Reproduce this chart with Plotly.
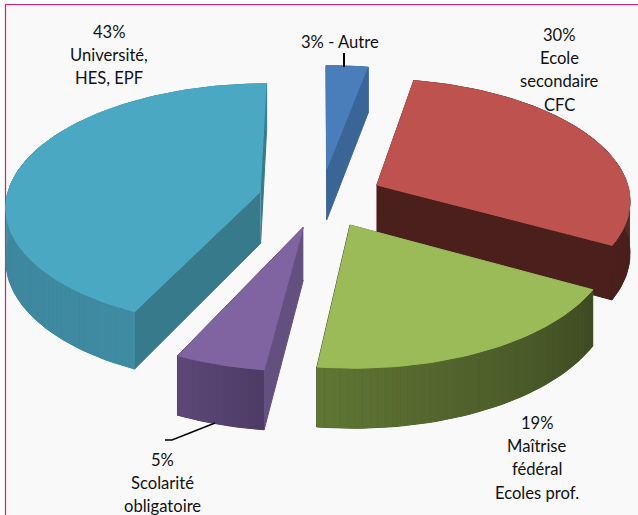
import numpy as np
import plotly.graph_objects as go

# --- data ---
categories = ["Autre", "Ecole secondaire CFC", "Maîtrise fédéral Ecoles prof.",
              "Scolarité obligatoire", "Université, HES, EPF"]
shares = [3, 30, 19, 5, 43]
label_lines = [["3% - Autre"],
               ["30%", "Ecole", "secondaire", "CFC"],
               ["19%", "Maîtrise", "fédéral", "Ecoles prof."],
               ["5%", "Scolarité", "obligatoire"],
               ["43%", "Université,", "HES, EPF"]]

# --- styling / projection constants ---
top_cols = ["#4a7ebb", "#bd524e", "#9bbb59", "#8064a2", "#4aa8c3"]
cut_cols = ["#3a6597", "#4a1f1c", "#4a5a28", "#64507f", "#377a8c"]
wall_a = ["#3a6597", "#4a1f1c", "#3e4a22", "#4e3c66", "#3f8ba2"]   # at arc start
wall_b = ["#3a6597", "#4a1f1c", "#5f7634", "#5c4776", "#3a8296"]   # at arc end
label_xy = [(340, 42), (559, 35), (537, 423), (162, 460), (109, 32)]
draw_order = [0, 4, 1, 3, 2]

CX, CY, R, RY, K, H, EXPLODE = 321, 198, 254, 121, 0.11, 52, 0.245


def project(X, Y, z=0.0):
    p = 1.0 / (1.0 + K * np.asarray(Y, float))
    return CX + R * np.asarray(X, float) * p, CY - RY * np.asarray(Y, float) * p + H * z * p


def mix(c1, c2, t):
    a = [int(c1[i:i + 2], 16) for i in (1, 3, 5)]
    b = [int(c2[i:i + 2], 16) for i in (1, 3, 5)]
    return "rgb(%d,%d,%d)" % tuple(round(u + (v - u) * t) for u, v in zip(a, b))


def poly(xs, ys, color, width=1):
    return go.Scatter(x=list(xs), y=list(ys), mode="lines", fill="toself", fillcolor=color,
                      line=dict(color=color, width=width), hoverinfo="skip", showlegend=False)


fig = go.Figure()
fracs = np.array(shares) / sum(shares)
edges = np.concatenate([[0], np.cumsum(fracs)]) * 2 * np.pi

for i in draw_order:
    a0, a1 = edges[i], edges[i + 1]
    mid = (a0 + a1) / 2
    ox, oy = EXPLODE * np.sin(mid), EXPLODE * np.cos(mid)
    th = np.linspace(a0, a1, max(int((a1 - a0) * 40), 6))
    wx, wy = ox + np.sin(th), oy + np.cos(th)

    # flat cut faces
    for a in (a0, a1):
        ex, ey = ox + np.sin(a), oy + np.cos(a)
        x1, y1 = project([ox, ex], [oy, ey], 0)
        x2, y2 = project([ex, ox], [ey, oy], 1)
        fig.add_trace(poly(np.r_[x1, x2], np.r_[y1, y2], cut_cols[i]))

    # outer wall: one base polygon, then shaded strips over it
    x1, y1 = project(wx, wy, 0)
    x2, y2 = project(wx[::-1], wy[::-1], 1)
    fig.add_trace(poly(np.r_[x1, x2], np.r_[y1, y2], mix(wall_a[i], wall_b[i], 0.5)))
    for j in range(len(th) - 1):
        x1, y1 = project(wx[j:j + 2], wy[j:j + 2], 0)
        x2, y2 = project(wx[j:j + 2][::-1], wy[j:j + 2][::-1], 1)
        fig.add_trace(poly(np.r_[x1, x2], np.r_[y1, y2],
                           mix(wall_a[i], wall_b[i], j / (len(th) - 2)), width=0))

    # top face
    x, y = project(np.r_[ox, wx], np.r_[oy, wy], 0)
    fig.add_trace(poly(x, y, top_cols[i]))

# leader lines
fig.add_trace(go.Scatter(x=[344, 344], y=[53, 67], mode="lines", line=dict(color="black", width=2),
                         hoverinfo="skip", showlegend=False))
fig.add_trace(go.Scatter(x=[165, 172, 215], y=[440, 440, 423], mode="lines",
                         line=dict(color="black", width=1.5), hoverinfo="skip", showlegend=False))

for (lx, ly), lines in zip(label_xy, label_lines):
    for n, t in enumerate(lines):
        fig.add_annotation(x=lx, y=ly + n * 23.2, text=t, showarrow=False, xanchor="center",
                           yanchor="middle", font=dict(family="Lato", size=16.6, color="#111111"))

fig.update_layout(
    width=638, height=515, margin=dict(l=0, r=0, t=0, b=0),
    paper_bgcolor="white", plot_bgcolor="white",
    xaxis=dict(range=[0, 638], visible=False, fixedrange=True),
    yaxis=dict(range=[515, 0], visible=False, fixedrange=True),
    shapes=[dict(type="rect", layer="below", x0=5.5, y0=4.5, x1=650, y1=530,
                 fillcolor="#f9f9f9", line=dict(color="#e5176d", width=1.2))],
)
fig.write_html("out.html", config={"displayModeBar": False},
               post_script="document.body.style.margin='0';document.body.style.overflow='hidden';")
